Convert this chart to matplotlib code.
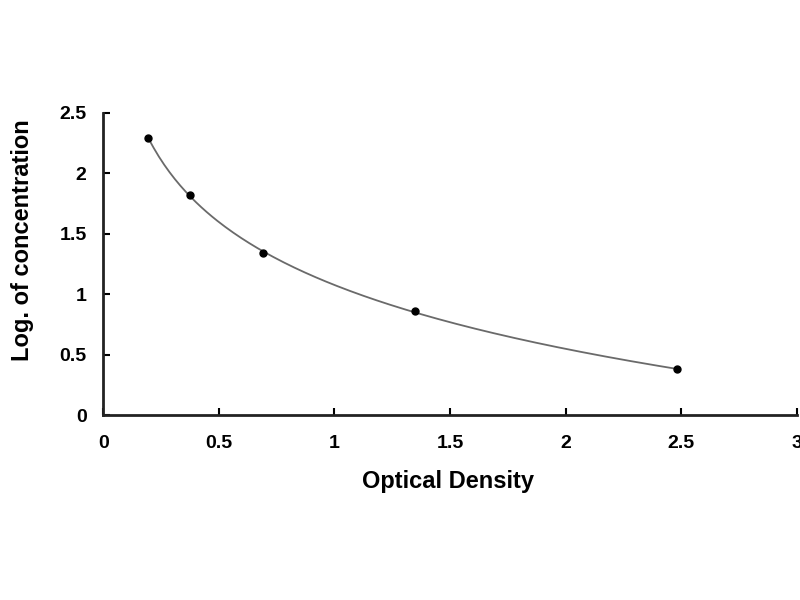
import numpy as np
import matplotlib
matplotlib.use("Agg")
import matplotlib.pyplot as plt

# standard curve points
optical_density = [0.195, 0.376, 0.69, 1.35, 2.48]
log_concentration = [2.29, 1.82, 1.34, 0.86, 0.38]

x_ticks = [0, 0.5, 1, 1.5, 2, 2.5, 3]
x_tick_labels = ["0", "0.5", "1", "1.5", "2", "2.5", "3"]
y_ticks = [0, 0.5, 1, 1.5, 2, 2.5]
y_tick_labels = ["0", "0.5", "1", "1.5", "2", "2.5"]

plt.rcParams["font.family"] = ["Liberation Sans", "DejaVu Sans"]

fig = plt.figure(figsize=(8, 6), dpi=100)
ax = fig.add_axes([0.129, 0.308, 0.867, 0.504])

# smooth trend line: quadratic fit in log(OD) space
od = np.array(optical_density)
coef = np.polyfit(np.log(od), log_concentration, 2)
xs = np.linspace(od.min(), od.max(), 200)
ax.plot(xs, np.polyval(coef, np.log(xs)), color="#6a6a6a", lw=1.3)
ax.plot(optical_density, log_concentration, "o", color="black", ms=5)

ax.set_xlim(0, 3)
ax.set_ylim(0, 2.5)
ax.set_xticks(x_ticks)
ax.set_xticklabels(x_tick_labels)
ax.set_yticks(y_ticks)
ax.set_yticklabels(y_tick_labels)
for s in ["top", "right"]:
  ax.spines[s].set_visible(False)
for s in ["left", "bottom"]:
  ax.spines[s].set_linewidth(2)
  ax.spines[s].set_color("#222222")
ax.tick_params(direction="in", length=5, width=1.5, labelsize=14)
ax.tick_params(axis="x", pad=14)
ax.tick_params(axis="y", pad=12)
for lbl in ax.get_xticklabels() + ax.get_yticklabels():
  lbl.set_fontweight("bold")

xl = ax.set_xlabel("Optical Density", fontsize=17, fontweight="bold")
xl.set_va("center")
ax.xaxis.set_label_coords(0.497, -0.22)
yl = ax.set_ylabel("Log. of concentration", fontsize=17, fontweight="bold")
yl.set_va("center")
ax.yaxis.set_label_coords(-0.117, 0.58)

fig.savefig("out.png", dpi=100)
